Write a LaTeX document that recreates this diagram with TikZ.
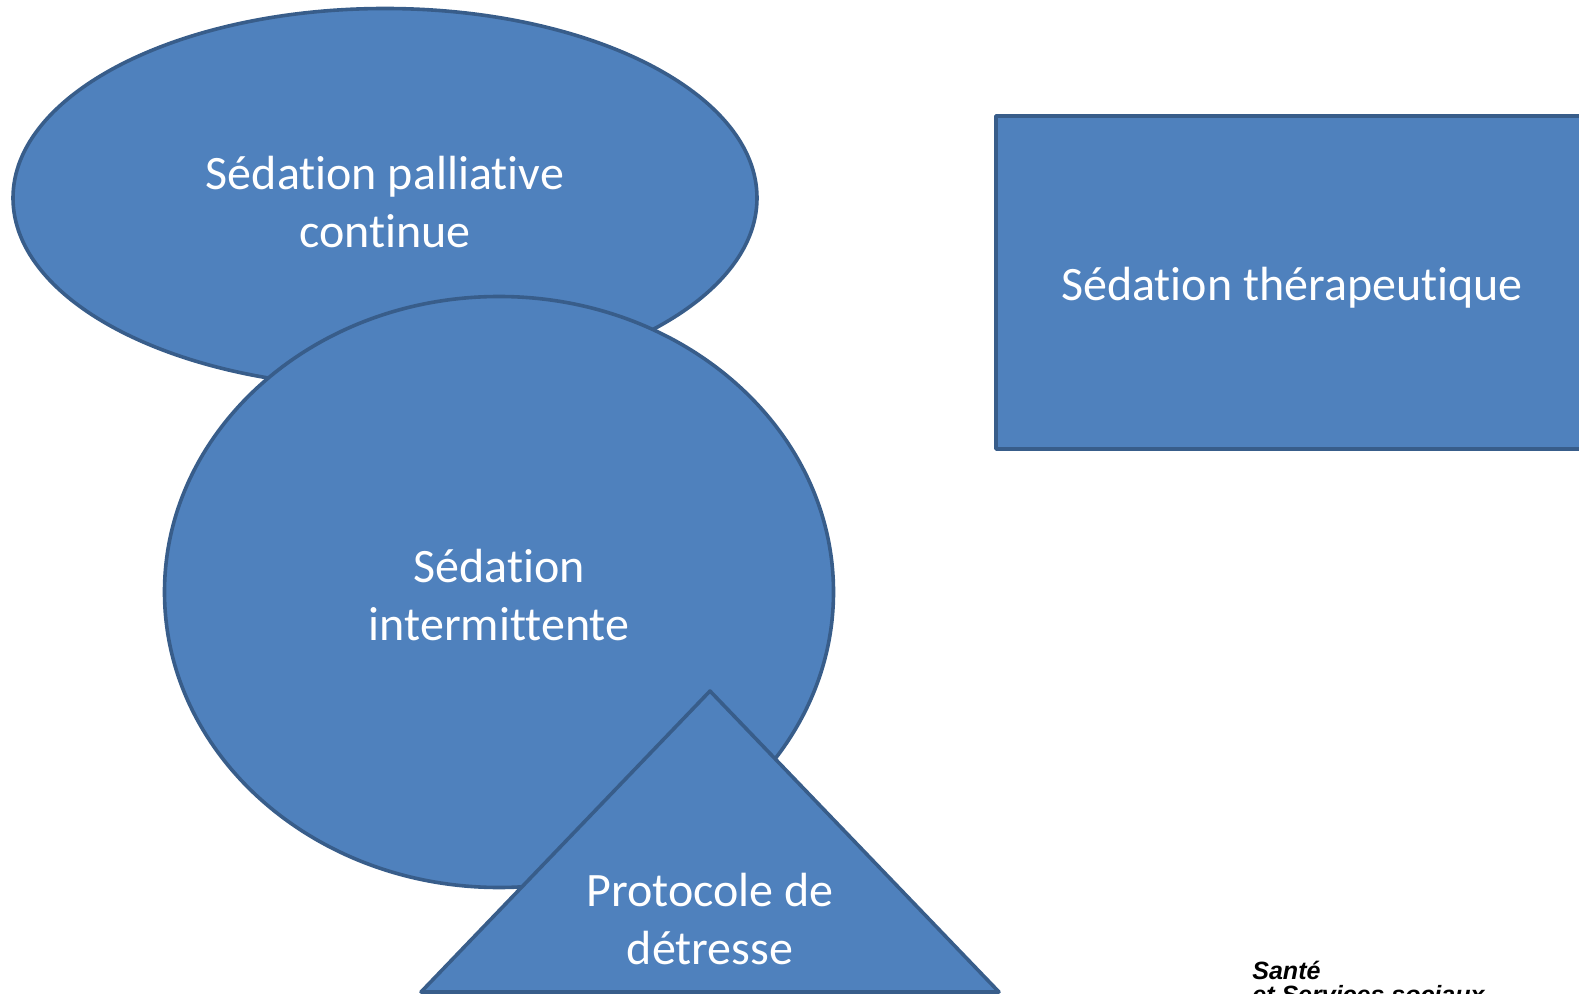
\documentclass[tikz,border=0pt]{standalone}
\usepackage{fontspec}
\setmainfont{Carlito}[Ligatures=NoCommon]
\newfontfamily\logofont{Liberation Sans}
\usetikzlibrary{shapes.geometric}
\definecolor{sedfill}{HTML}{4F81BD}
\definecolor{sedline}{HTML}{385D8A}

\begin{document}
\begin{tikzpicture}[x=0.5pt, y=-0.5pt,
    forme/.style={draw=sedline, fill=sedfill, line width=1.8pt, line join=round, inner sep=0pt},
    ovale/.style={forme, ellipse},
    texte/.style={text=white, align=center, inner sep=0pt, font=\fontsize{24}{29}\selectfont}]
  \useasboundingbox (0,0) rectangle (1579,994);
  \clip (0,0) rectangle (1579,994);
  \node[ovale, minimum width=372pt, minimum height=189.5pt] (continue) at (385,198) {};
  \node[texte] (continue-txt) at (385,202) {Sédation palliative\\continue};
  \node[ovale, minimum width=334.5pt, minimum height=295.5pt] (intermittente) at (499,592) {};
  \node[texte] (intermittente-txt) at (499,595) {Sédation\\intermittente};
  % triangle du protocole
  \coordinate (sommet) at (710,691);
  \coordinate (baseg) at (421,992);
  \coordinate (based) at (999,992);
  \draw[forme] (sommet) -- (based) -- (baseg) -- cycle;
  \node[texte] (detresse-txt) at (710,919) {Protocole de\\détresse};
  \node[forme, rectangle, minimum width=296pt, minimum height=166.5pt] (therapeutique) at (1292,282.5) {};
  \node[texte] (therapeutique-txt) at (1292,288) {Sédation thérapeutique};
  \node[anchor=base west, align=left, inner sep=0pt, font=\logofont\bfseries\itshape\fontsize{12.5}{12}\selectfont] (sante) at (1252,1003) {Santé\\et Services sociaux};
\end{tikzpicture}
\end{document}
